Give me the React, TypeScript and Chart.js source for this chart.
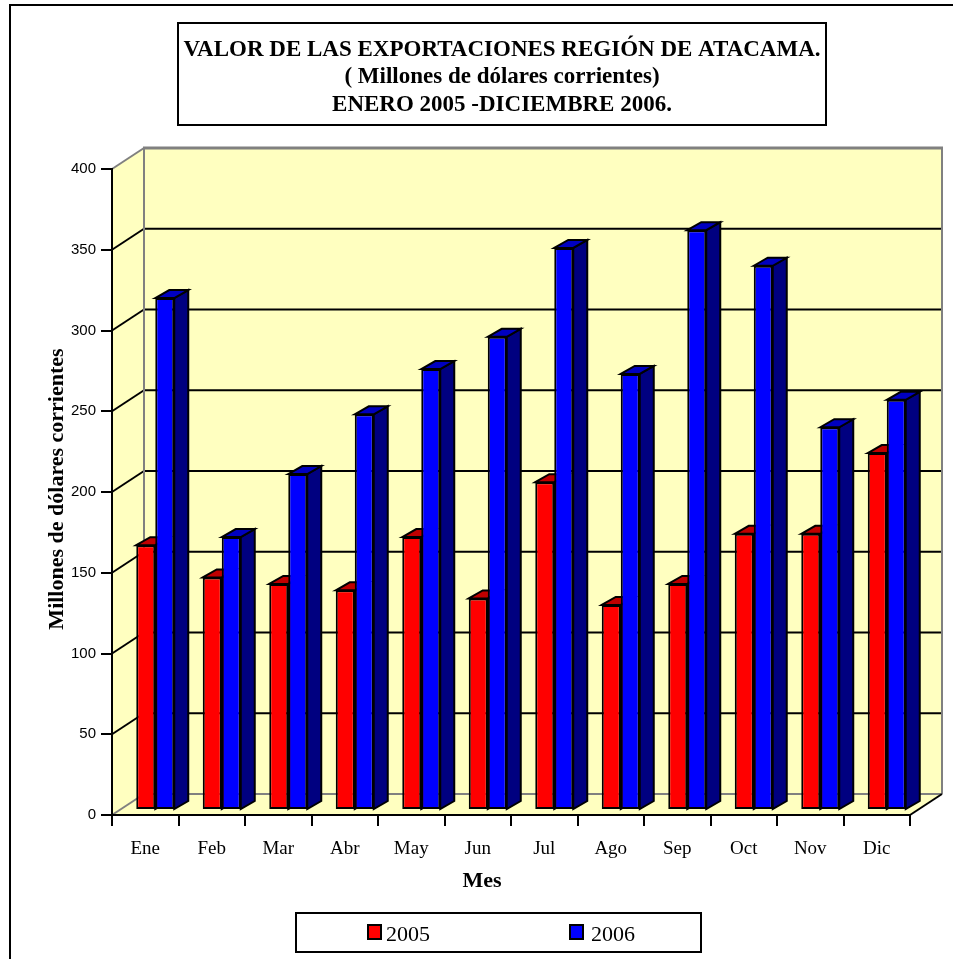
import React, { useEffect, useRef } from "react";
import { Chart, registerables } from "chart.js";

Chart.register(...registerables);

const months = ["Ene", "Feb", "Mar", "Abr", "May", "Jun", "Jul", "Ago", "Sep", "Oct", "Nov", "Dic"];
const values2005 = [164, 144, 140, 136, 169, 131, 203, 127, 140, 171, 171, 221];
const values2006 = [317, 169, 208, 245, 273, 293, 348, 270, 359, 337, 237, 254];
const titleLines = [
  "VALOR DE LAS EXPORTACIONES REGIÓN DE ATACAMA.",
  "( Millones de dólares corrientes)",
  "ENERO 2005 -DICIEMBRE 2006.",
];
const yAxisTitle = "Millones de dólares corrientes";
const xAxisTitle = "Mes";
const SERIF = "'Liberation Serif', serif";
const SANS = "'Liberation Sans', sans-serif";
const WALL = "#FFFFC0";
const GREY = "#808080";
const seriesStyle = [
  { label: "2005", front: "#FF0000", top: "#C00000", side: "#800000" },
  { label: "2006", front: "#0000FF", top: "#0000C0", side: "#000080" },
];

// 3D projection
const WALL_DX = 32;
const WALL_DY = -21;
const BAR_DX = 10;
const BAR_DY = -5;
const DEPTH_DX = 14;
const DEPTH_DY = -8;

function poly(ctx: CanvasRenderingContext2D, pts: number[][], fill: string | null, stroke: string | null, lw = 2) {
  ctx.beginPath();
  pts.forEach((p, i) => (i ? ctx.lineTo(p[0], p[1]) : ctx.moveTo(p[0], p[1])));
  ctx.closePath();
  if (fill) {
    ctx.fillStyle = fill;
    ctx.fill();
  }
  if (stroke) {
    ctx.strokeStyle = stroke;
    ctx.lineWidth = lw;
    ctx.lineJoin = "miter";
    ctx.stroke();
  }
}

function line(ctx: CanvasRenderingContext2D, x1: number, y1: number, x2: number, y2: number, color: string, lw = 2) {
  ctx.beginPath();
  ctx.moveTo(x1, y1);
  ctx.lineTo(x2, y2);
  ctx.strokeStyle = color;
  ctx.lineWidth = lw;
  ctx.stroke();
}

const scene3d = {
  id: "scene3d",
  afterLayout(chart: any) {
    const t = chart.titleBlock;
    if (t) {
      t.left = 178;
      t.right = 826;
    }
  },
  beforeDraw(chart: any) {
    const { ctx, chartArea: a, scales } = chart;
    const y = scales.y;
    ctx.save();
    // outer frame
    line(ctx, 10, 960, 10, 5, "#000");
    line(ctx, 9, 5, 953, 5, "#000");
    // title box
    ctx.strokeStyle = "#000";
    ctx.lineWidth = 2;
    ctx.strokeRect(178, 23, 648, 102);
    // walls and floor
    const wl = a.left + WALL_DX, wr = a.right + WALL_DX, wt = a.top + WALL_DY, wb = a.bottom + WALL_DY;
    poly(ctx, [[wl, wt], [wr, wt], [wr, wb], [wl, wb]], WALL, null);
    poly(ctx, [[a.left, a.top], [wl, wt], [wl, wb], [a.left, a.bottom]], WALL, null);
    poly(ctx, [[a.left, a.bottom], [wl, wb], [wr, wb], [a.right, a.bottom]], WALL, null);
    // grid
    y.ticks.forEach((tick: any) => {
      const py = y.getPixelForValue(tick.value);
      if (tick.value === 0 || tick.value === 400) return;
      line(ctx, a.left, py, wl, py + WALL_DY, "#000");
      line(ctx, wl, py + WALL_DY, wr, py + WALL_DY, "#000");
    });
    // wall edges
    line(ctx, a.left, a.top, wl, wt, GREY, 2);
    line(ctx, wl - 1, wt, wr + 1, wt, GREY, 3);
    line(ctx, wl, wt, wl, wb, GREY, 2);
    line(ctx, wr, wt, wr, wb, GREY, 2);
    line(ctx, a.left, a.bottom, wl, wb, GREY, 2);
    line(ctx, wl, wb, wr, wb, GREY, 2);
    line(ctx, a.right, a.bottom, wr, wb, "#000", 2);
    ctx.restore();
  },
  beforeDatasetsDraw(chart: any) {
    // The library paints the first series last; a 3D row needs left to right.
    const { ctx } = chart;
    seriesStyle.forEach((style, index) => {
      const meta = chart.getDatasetMeta(index);
      ctx.save();
      ctx.translate(BAR_DX, BAR_DY);
      meta.data.forEach((bar: any) => {
        const l = bar.x - bar.width / 2, r = bar.x + bar.width / 2, t = bar.y, b = bar.base;
        poly(ctx, [[r, t], [r + DEPTH_DX, t + DEPTH_DY], [r + DEPTH_DX, b + DEPTH_DY], [r, b]], style.side, "#000");
        poly(ctx, [[l, t], [l + DEPTH_DX, t + DEPTH_DY], [r + DEPTH_DX, t + DEPTH_DY], [r, t]], style.top, "#000");
      });
      meta.controller.draw();
      ctx.restore();
    });
  },
  beforeDatasetDraw() {
    return false;
  },
  afterDraw(chart: any) {
    const { ctx } = chart;
    ctx.save();
    ctx.fillStyle = "#000";
    ctx.textAlign = "center";
    ctx.textBaseline = "middle";
    ctx.font = `bold 22px ${SERIF}`;
    ctx.fillText(xAxisTitle, 482, 881);
    ctx.save();
    ctx.translate(57, 489);
    ctx.rotate(-Math.PI / 2);
    ctx.fillText(yAxisTitle, 0, 0);
    ctx.restore();
    // legend
    ctx.strokeStyle = "#000";
    ctx.lineWidth = 2;
    ctx.strokeRect(296, 913, 405, 39);
    ctx.font = `22px ${SERIF}`;
    ctx.textAlign = "left";
    const xs = [368, 570];
    seriesStyle.forEach((s, i) => {
      ctx.fillStyle = s.front;
      ctx.fillRect(xs[i], 925, 13, 14);
      ctx.strokeRect(xs[i], 925, 13, 14);
      ctx.fillStyle = "#000";
      ctx.fillText(s.label, xs[i] + 18 + i * 3, 935);
    });
    ctx.restore();
  },
};

export default function App() {
  const ref = useRef<HTMLCanvasElement>(null);
  useEffect(() => {
    const chart = new Chart(ref.current!, {
      type: "bar",
      data: {
        labels: months,
        datasets: [values2005, values2006].map((data, i) => ({
          label: seriesStyle[i].label,
          data,
          backgroundColor: seriesStyle[i].front,
          borderColor: "#000",
          borderWidth: 2,
          borderSkipped: false,
          barPercentage: 1,
          categoryPercentage: 38 / 66.5,
        })),
      },
      options: {
        responsive: false,
        animation: false,
        layout: { padding: { left: 0, right: 43, top: 0, bottom: 0 } },
        plugins: {
          legend: { display: false },
          tooltip: { enabled: false },
          title: {
            display: true,
            text: titleLines,
            color: "#000",
            font: { family: SERIF, size: 23, weight: "bold", lineHeight: 1.2 },
            padding: { top: 36, bottom: 169 - 36 - 3 * 23 * 1.2 },
          },
        },
        scales: {
          x: {
            afterFit(s: any) {
              s.height = 144;
            },
            grid: { drawOnChartArea: false, color: "#000", lineWidth: 2, tickLength: 11, offset: true },
            border: { color: "#000", width: 2 },
            ticks: { color: "#000", font: { family: SERIF, size: 19 }, padding: 12, maxRotation: 0 },
          },
          y: {
            min: 0,
            max: 400,
            afterFit(s: any) {
              s.width = 112;
            },
            grid: { drawOnChartArea: false, color: "#000", lineWidth: 2, tickLength: 11 },
            border: { color: "#000", width: 2 },
            ticks: { color: "#000", stepSize: 50, font: { family: SANS, size: 15 }, padding: 5 },
          },
        },
      },
      plugins: [scene3d],
    } as any);
    return () => chart.destroy();
  }, []);
  return (
    <div style={{ position: "absolute", left: 0, top: 0, width: 953, height: 959, background: "#fff", overflow: "hidden" }}>
      <canvas ref={ref} width={953} height={959} style={{ display: "block" }} />
    </div>
  );
}
